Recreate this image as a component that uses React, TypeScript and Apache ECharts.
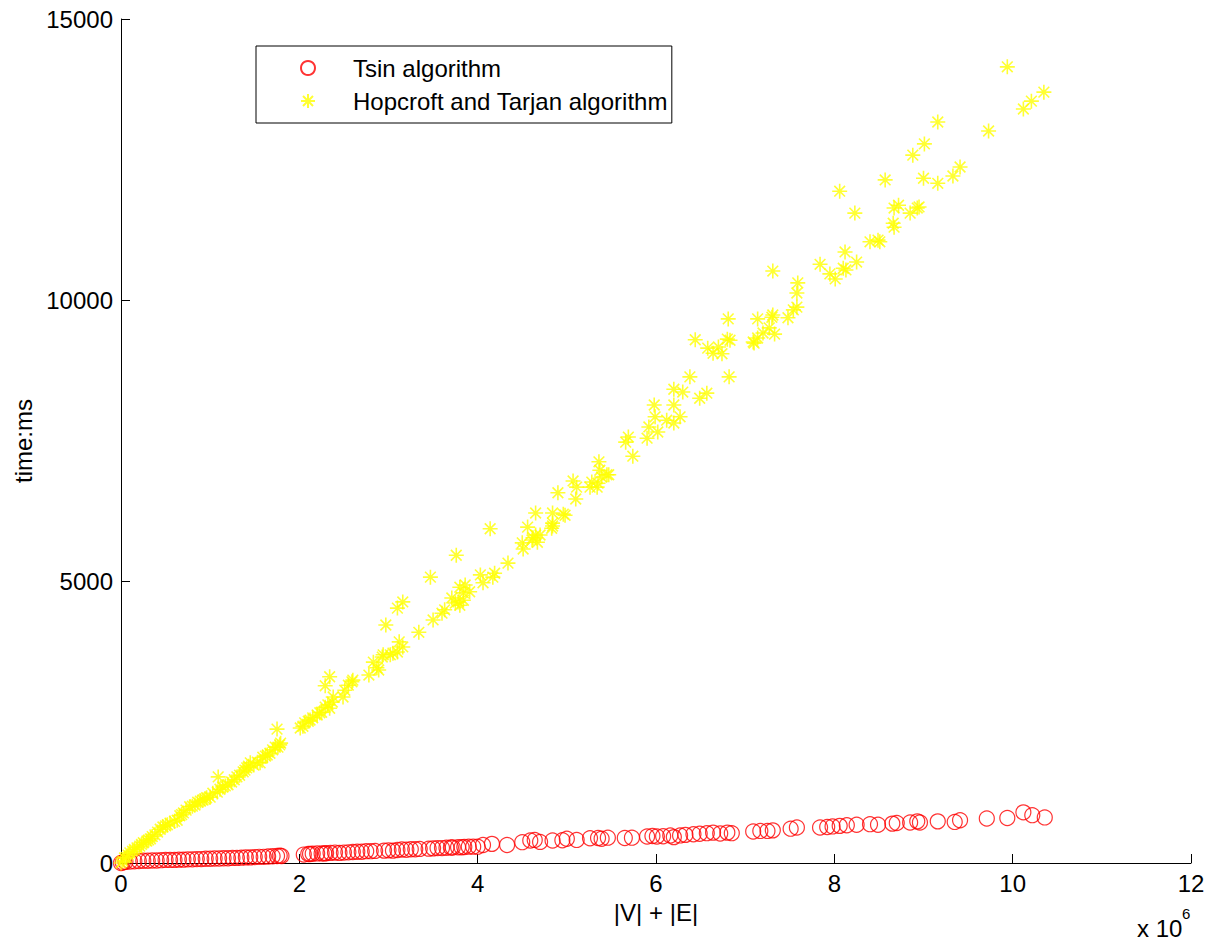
import React, { useEffect, useRef } from "react";
import * as echarts from "echarts";

const xTicks = [0, 2, 4, 6, 8, 10, 12];
const yTicks = [0, 5000, 10000, 15000];

const tsinX = [0.0, 0.02, 0.05, 0.1, 0.15, 0.2, 0.25, 0.3, 0.35, 0.4, 0.45, 0.5, 0.55, 0.6, 0.65, 0.7, 0.75, 0.8, 0.85, 0.9, 0.95, 1.0, 1.05, 1.1, 1.15, 1.2, 1.25,
  1.3, 1.35, 1.4, 1.45, 1.5, 1.55, 1.6, 1.65, 1.7, 1.75, 1.78, 1.8,
  2.05, 2.1, 2.12, 2.15, 2.2, 2.25, 2.28, 2.3, 2.35, 2.4, 2.45, 2.5, 2.55, 2.6, 2.65, 2.7, 2.75, 2.8, 2.85, 2.95, 3.0, 3.05, 3.1, 3.15, 3.2, 3.25, 3.3, 3.35,
  3.45, 3.5, 3.55, 3.6, 3.65, 3.7, 3.72, 3.78, 3.82, 3.85, 3.9, 3.95, 4.0,
  4.06, 4.16, 4.33, 4.5, 4.59, 4.64, 4.7, 4.84, 4.95, 5.0, 5.11, 5.26, 5.35, 5.39, 5.46, 5.65, 5.73, 5.9, 5.96, 6.01, 6.08, 6.16, 6.2, 6.27, 6.33, 6.42, 6.49,
  6.57, 6.64, 6.72, 6.8, 6.85, 7.09, 7.17, 7.25, 7.31, 7.51, 7.58, 7.84, 7.92, 7.98, 8.06, 8.14, 8.25, 8.4, 8.49, 8.65, 8.7, 8.85, 8.93, 8.96, 9.16, 9.35, 9.41,
  9.71, 9.94, 10.12, 10.22, 10.36];
const tsinY = [0, 10, 20, 25, 30, 35, 40, 40, 45, 45, 50, 55, 55, 55, 60, 60, 65, 65, 70, 70, 75, 75, 80, 80, 85, 85, 90,
  90, 95, 100, 100, 105, 110, 110, 115, 120, 125, 130, 125,
  150, 160, 160, 165, 170, 170, 170, 175, 180, 185, 180, 185, 190, 195, 200, 200, 210, 210, 215, 220, 225, 220, 230, 240, 235, 245, 245, 250,
  255, 260, 265, 265, 270, 275, 275, 280, 280, 285, 290, 290, 290,
  320, 340, 320, 370, 400, 410, 375, 400, 405, 430, 410, 440, 445, 430, 450, 445, 450, 470, 480, 470, 475, 490, 460, 490, 500, 510, 520,
  530, 540, 525, 540, 530, 560, 570, 570, 580, 610, 630, 630, 640, 650, 660, 670, 680, 690, 680, 700, 710, 720, 740, 720, 740, 730, 760,
  790, 800, 900, 850, 810];

const hopX = [0.0, 0.02, 0.04, 0.06, 0.08, 0.1, 0.13, 0.15, 0.18, 0.21, 0.23, 0.25, 0.29, 0.31, 0.33, 0.35, 0.38, 0.41, 0.44, 0.47, 0.5, 0.52, 0.55, 0.6, 0.63,
  0.66, 0.68, 0.7, 0.73, 0.77, 0.8, 0.83, 0.86, 0.89, 0.92, 0.94, 0.96,
  1.0, 1.03, 1.08, 1.09, 1.11, 1.14, 1.17, 1.2, 1.24, 1.27, 1.3, 1.33, 1.37, 1.39, 1.41, 1.43, 1.45, 1.49, 1.53, 1.56, 1.59, 1.62, 1.64, 1.67, 1.7, 1.73, 1.76,
  1.78, 1.79, 1.75,
  2.01, 2.04, 2.06, 2.1, 2.12, 2.15, 2.2, 2.23, 2.25, 2.29, 2.32, 2.34, 2.37, 2.38, 2.34, 2.29, 2.49, 2.51, 2.55, 2.59, 2.6, 2.78, 2.83, 2.87, 2.89, 2.93, 2.97, 2.94,
  3.02, 3.05, 3.1, 3.12, 3.16, 3.1, 3.16, 3.34, 3.47, 3.5, 3.6, 3.63, 3.71, 3.75, 3.78, 3.8, 3.84, 3.76, 3.8, 3.86, 3.91, 3.84,
  4.03, 4.06, 4.14, 4.17, 4.19, 4.34, 4.5, 4.51, 4.56, 4.61, 4.62, 4.65, 4.7, 4.67, 4.65, 4.84, 4.84, 4.84, 4.83, 4.9, 4.96, 4.98,
  5.07, 5.11, 5.1, 5.26, 5.28, 5.34, 5.35, 5.36, 5.37, 5.39, 5.45, 5.47, 5.66, 5.69, 5.74, 5.9, 5.92, 5.98, 5.99,
  6.02, 6.12, 6.2, 6.2, 6.27, 6.2, 6.3, 6.38, 6.49, 6.57, 6.44, 6.58, 6.64, 6.7, 6.74, 6.8, 6.83, 6.81, 6.82,
  7.09, 7.1, 7.14, 7.14, 7.2, 7.27, 7.33, 7.3, 7.31, 7.31, 7.48, 7.54, 7.58, 7.59, 7.58, 7.84, 7.95,
  8.01, 8.1, 8.13, 8.12, 8.25, 8.06, 8.23, 8.4, 8.49, 8.51, 8.57, 8.66, 8.67, 8.67, 8.72, 8.85, 8.93, 8.95, 8.88,
  9.01, 9.0, 9.16, 9.16, 9.33, 9.41, 9.73, 9.94, 10.12, 10.21, 10.35];
const hopY = [0, 35, 90, 100, 140, 180, 210, 240, 270, 300, 330, 360, 390, 410, 430, 470, 500, 550, 600, 640, 660, 680, 710, 740, 760,
  840, 860, 890, 940, 1000, 1010, 1030, 1080, 1100, 1120, 1140, 1160,
  1170, 1240, 1260, 1530, 1310, 1350, 1370, 1390, 1440, 1480, 1530, 1560, 1620, 1650, 1690, 1720, 1780, 1740, 1790, 1780, 1880, 1900, 1920, 1950, 2010, 2060, 2060,
  2100, 2130, 2380,
  2400, 2430, 2490, 2520, 2540, 2580, 2630, 2670, 2680, 2770, 2810, 2750, 2860, 2950, 3310, 3150, 2950, 3070, 3160, 3220, 3250, 3340, 3570, 3470, 3430, 3660, 4230, 3700,
  3700, 3730, 3750, 3930, 3840, 4530, 4640, 4100, 5080, 4320, 4440, 4500, 4710, 4620, 4640, 4580, 4670, 5470, 4900, 4940, 4820, 4800,
  5120, 4980, 5940, 5080, 5150, 5330, 5690, 5580, 5970, 5740, 5780, 5830, 5830, 5700, 6220, 6220, 6040, 5990, 5950, 6580, 6200, 6180,
  6790, 6680, 6470, 6680, 6770, 6680, 6750, 7130, 6980, 6860, 6900, 6900, 7480, 7570, 7230, 7550, 7750, 8140, 7930,
  7660, 7870, 8140, 7820, 7930, 8420, 8370, 8640, 8260, 8350, 9300, 9150, 9060, 9170, 9050, 9310, 9290, 9670, 8640,
  9260, 9240, 9330, 9670, 9420, 9510, 9400, 9700, 9740, 10520, 9690, 9830, 9880, 10310, 10130, 10640, 10470,
  10380, 10570, 10540, 10860, 10680, 11940, 11550, 11040, 11070, 11040, 12140, 11370, 11300, 11640, 11690, 11550, 11640, 11660, 12580,
  12780, 12170, 12080, 13170, 12210, 12370, 13010, 14150, 13400, 13540, 13700];

const seriesNames = ["Tsin algorithm", "Hopcroft and Tarjan algorithm"];
const xName = "|V| + |E|";
const yName = "time:ms";

const FONT = "'Liberation Sans', Arial, Helvetica, sans-serif";
const FS = 24;
const STAR = "path://M7,0L7,14M0,7L14,7M2,2L12,12M2,12L12,2";

export default function App() {
  const ref = useRef<HTMLDivElement>(null);
  useEffect(() => {
    if (!ref.current) return;
    const chart = echarts.init(ref.current, null, { renderer: "svg" });
    const tsinData = tsinX.map((x, i) => [x, tsinY[i]]);
    const hopData = hopX.map((x, i) => [x, hopY[i]]);
    chart.setOption({
      animation: false,
      backgroundColor: "#ffffff",
      textStyle: { fontFamily: FONT },
      grid: { left: 121, right: 23, top: 19, bottom: 80, containLabel: false },
      legend: {
        orient: "vertical",
        left: 256,
        top: 46,
        backgroundColor: "#ffffff",
        borderColor: "#000000",
        borderWidth: 1,
        padding: [10, 4, 10, 44],
        itemWidth: 14,
        itemHeight: 14,
        itemGap: 9,
        selectedMode: false,
        textStyle: { fontSize: FS, color: "#000", fontFamily: FONT, padding: [0, 0, 0, 33], lineHeight: 22 },
        data: seriesNames,
      },
      xAxis: {
        type: "value",
        min: xTicks[0],
        max: xTicks[xTicks.length - 1],
        interval: 2,
        name: xName,
        nameLocation: "middle",
        nameGap: 37,
        nameTextStyle: { fontSize: FS, color: "#000", fontFamily: FONT },
        axisLine: { lineStyle: { color: "#000", width: 1 } },
        axisTick: { inside: true, length: 9, lineStyle: { color: "#000" } },
        axisLabel: { fontSize: FS, color: "#000", margin: 8, fontFamily: FONT },
        splitLine: { show: false },
      },
      yAxis: {
        type: "value",
        min: yTicks[0],
        max: yTicks[yTicks.length - 1],
        interval: 5000,
        name: yName,
        nameLocation: "middle",
        nameGap: 78,
        nameTextStyle: { fontSize: FS, color: "#000", fontFamily: FONT },
        axisLine: { show: true, lineStyle: { color: "#000", width: 1 } },
        axisTick: { show: true, inside: true, length: 9, lineStyle: { color: "#000" } },
        axisLabel: { fontSize: FS, color: "#000", margin: 8, fontFamily: FONT, formatter: (v: number) => String(v) },
        splitLine: { show: false },
      },
      series: [
        {
          name: seriesNames[0],
          type: "scatter",
          symbol: "circle",
          symbolSize: 15,
          itemStyle: { color: "rgba(0,0,0,0)", borderColor: "#ff0000", borderWidth: 1.2 },
          data: tsinData,
          z: 2,
        },
        {
          name: seriesNames[1],
          type: "scatter",
          symbol: STAR,
          symbolSize: 15,
          itemStyle: { color: "rgba(0,0,0,0)", borderColor: "#ffff00", borderWidth: 1.6 },
          data: hopData,
          z: 3,
        },
      ],
      graphic: [
        { type: "text", left: 1137, top: 916, style: { text: "x 10", fontSize: FS, fill: "#000", fontFamily: FONT } },
        { type: "text", left: 1182, top: 906, style: { text: "6", fontSize: 15, fill: "#000", fontFamily: FONT } },
      ],
    });
    return () => chart.dispose();
  }, []);
  return <div ref={ref} style={{ position: "absolute", left: 0, top: 0, width: 1214, height: 943 }} />;
}
